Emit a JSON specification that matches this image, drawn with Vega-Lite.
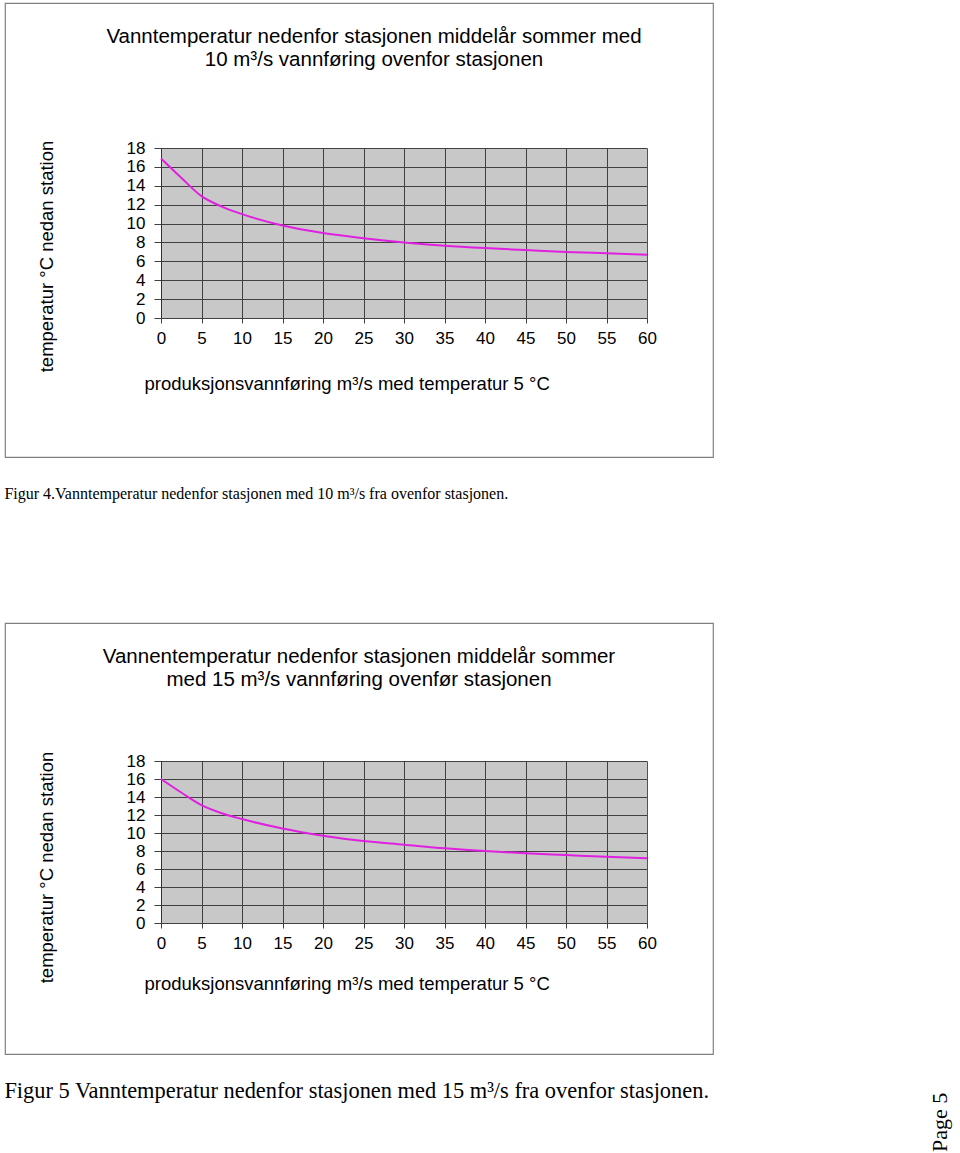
{
  "$schema": "https://vega.github.io/schema/vega-lite/v6.json",
  "padding": {"left": 4, "top": 2, "right": 5, "bottom": 2},
  "background": "white",
  "config": {
    "view": {"stroke": "#808080", "strokeWidth": 1.2},
    "font": "Liberation Sans",
    "axis": {
      "domainColor": "#404040", "tickColor": "#404040", "gridColor": "#525252",
      "gridOpacity": 1, "gridWidth": 1, "domainWidth": 1, "tickWidth": 1,
      "labelFont": "Liberation Sans", "labelFontSize": 17, "labelColor": "black",
      "labelFlush": false, "labelOverlap": false,
      "titleFont": "Liberation Sans", "titleFontSize": 18.5, "titleFontWeight": "normal", "titleColor": "black"
    },
    "title": {"fontWeight": "normal", "color": "black"}
  },
  "title": {"text": "Page 5", "orient": "right", "anchor": "end", "angle": 270, "align": "left", "baseline": "bottom", "font": "Liberation Serif", "fontSize": 22, "offset": 216, "dx": -50},
  "spacing": 120,
  "vconcat": [
    {
      "title": {"text": "Figur 4.Vanntemperatur nedenfor stasjonen med 10 m³/s fra ovenfor stasjonen.", "orient": "bottom", "anchor": "start", "font": "Liberation Serif", "fontSize": 16, "offset": 28},
      "vconcat": [
        {
          "width": 708, "height": 454,
          "title": {"text": ["Vanntemperatur nedenfor stasjonen middelår  sommer med", "10 m³/s vannføring ovenfor stasjonen"], "orient": "top", "anchor": "middle", "offset": -67, "dx": 15, "fontSize": 20.5, "lineHeight": 23, "font": "Liberation Sans"},
          "data": {"values": [
            {"q": 0, "t": 16.9}, {"q": 2.5, "t": 14.85}, {"q": 5, "t": 12.9}, {"q": 7.5, "t": 11.8},
            {"q": 10, "t": 11.0}, {"q": 15, "t": 9.8}, {"q": 20, "t": 9.0}, {"q": 25, "t": 8.45},
            {"q": 30, "t": 8.0}, {"q": 35, "t": 7.65}, {"q": 40, "t": 7.4}, {"q": 45, "t": 7.2},
            {"q": 50, "t": 7.0}, {"q": 55, "t": 6.85}, {"q": 60, "t": 6.7}
          ]},
          "resolve": {"axis": {"x": "independent"}},
          "layer": [
            {
              "data": {"values": [{}]},
              "mark": {"type": "rect", "color": "black", "fillOpacity": 0.215},
              "encoding": {
                "x": {"datum": 0, "type": "quantitative",
                  "axis": {"orient": "top", "values": [0,5,10,15,20,25,30,35,40,45,50,55,60], "grid": true, "domain": false, "ticks": false, "labels": false, "title": null}},
                "x2": {"datum": 60},
                "y": {"datum": 0, "type": "quantitative", "title": "temperatur  °C nedan station"},
                "y2": {"datum": 18}
              }
            },
            {
              "mark": {"type": "line", "color": "#e020e0", "strokeWidth": 2, "interpolate": "monotone"},
              "encoding": {
                "x": {"field": "q", "type": "quantitative",
                  "scale": {"domain": [0, 60], "range": [156, 642], "nice": false},
                  "axis": {"values": [0,5,10,15,20,25,30,35,40,45,50,55,60], "grid": false, "offset": -139, "tickSize": 5, "labelPadding": 7,
                    "title": "produksjonsvannføring m³/s med temperatur 5  °C", "titleX": 139, "titleY": 71, "titleAlign": "left", "titleBaseline": "alphabetic"}},
                "y": {"field": "t", "type": "quantitative",
                  "scale": {"domain": [0, 18], "range": [315, 145], "nice": false},
                  "axis": {"values": [0,2,4,6,8,10,12,14,16,18], "grid": true, "offset": -156, "tickSize": 7, "labelPadding": 9,
                    "title": "temperatur  °C nedan station", "titleX": -115, "titleY": 253, "titleAngle": 270, "titleAlign": "center", "titleBaseline": "middle"}}
              }
            }
          ]
        }
      ]
    },
    {
      "title": {"text": "Figur 5 Vanntemperatur nedenfor stasjonen med 15 m³/s fra ovenfor stasjonen.", "orient": "bottom", "anchor": "start", "font": "Liberation Serif", "fontSize": 22.4, "offset": 25},
      "vconcat": [
        {
          "width": 708, "height": 431,
          "title": {"text": ["Vannentemperatur nedenfor stasjonen middelår sommer", "med 15 m³/s vannføring ovenfør stasjonen"], "orient": "top", "anchor": "middle", "offset": -67, "fontSize": 20.5, "lineHeight": 23, "font": "Liberation Sans"},
          "data": {"values": [
            {"q": 0, "t": 16.0}, {"q": 2.5, "t": 14.5}, {"q": 5, "t": 13.1}, {"q": 7.5, "t": 12.2},
            {"q": 10, "t": 11.55}, {"q": 15, "t": 10.5}, {"q": 20, "t": 9.7}, {"q": 25, "t": 9.1},
            {"q": 30, "t": 8.7}, {"q": 35, "t": 8.3}, {"q": 40, "t": 8.0}, {"q": 45, "t": 7.75},
            {"q": 50, "t": 7.55}, {"q": 55, "t": 7.35}, {"q": 60, "t": 7.2}
          ]},
          "resolve": {"axis": {"x": "independent"}},
          "layer": [
            {
              "data": {"values": [{}]},
              "mark": {"type": "rect", "color": "black", "fillOpacity": 0.215},
              "encoding": {
                "x": {"datum": 0, "type": "quantitative",
                  "axis": {"orient": "top", "values": [0,5,10,15,20,25,30,35,40,45,50,55,60], "grid": true, "domain": false, "ticks": false, "labels": false, "title": null}},
                "x2": {"datum": 60},
                "y": {"datum": 0, "type": "quantitative", "title": "temperatur  °C nedan station"},
                "y2": {"datum": 18}
              }
            },
            {
              "mark": {"type": "line", "color": "#e020e0", "strokeWidth": 2, "interpolate": "monotone"},
              "encoding": {
                "x": {"field": "q", "type": "quantitative",
                  "scale": {"domain": [0, 60], "range": [156, 642], "nice": false},
                  "axis": {"values": [0,5,10,15,20,25,30,35,40,45,50,55,60], "grid": false, "offset": -131, "tickSize": 5, "labelPadding": 7,
                    "title": "produksjonsvannføring m³/s med temperatur 5  °C", "titleX": 139, "titleY": 66, "titleAlign": "left", "titleBaseline": "alphabetic"}},
                "y": {"field": "t", "type": "quantitative",
                  "scale": {"domain": [0, 18], "range": [300, 138], "nice": false},
                  "axis": {"values": [0,2,4,6,8,10,12,14,16,18], "grid": true, "offset": -156, "tickSize": 7, "labelPadding": 9,
                    "title": "temperatur  °C nedan station", "titleX": -115, "titleY": 244, "titleAngle": 270, "titleAlign": "center", "titleBaseline": "middle"}}
              }
            }
          ]
        }
      ]
    }
  ]
}
